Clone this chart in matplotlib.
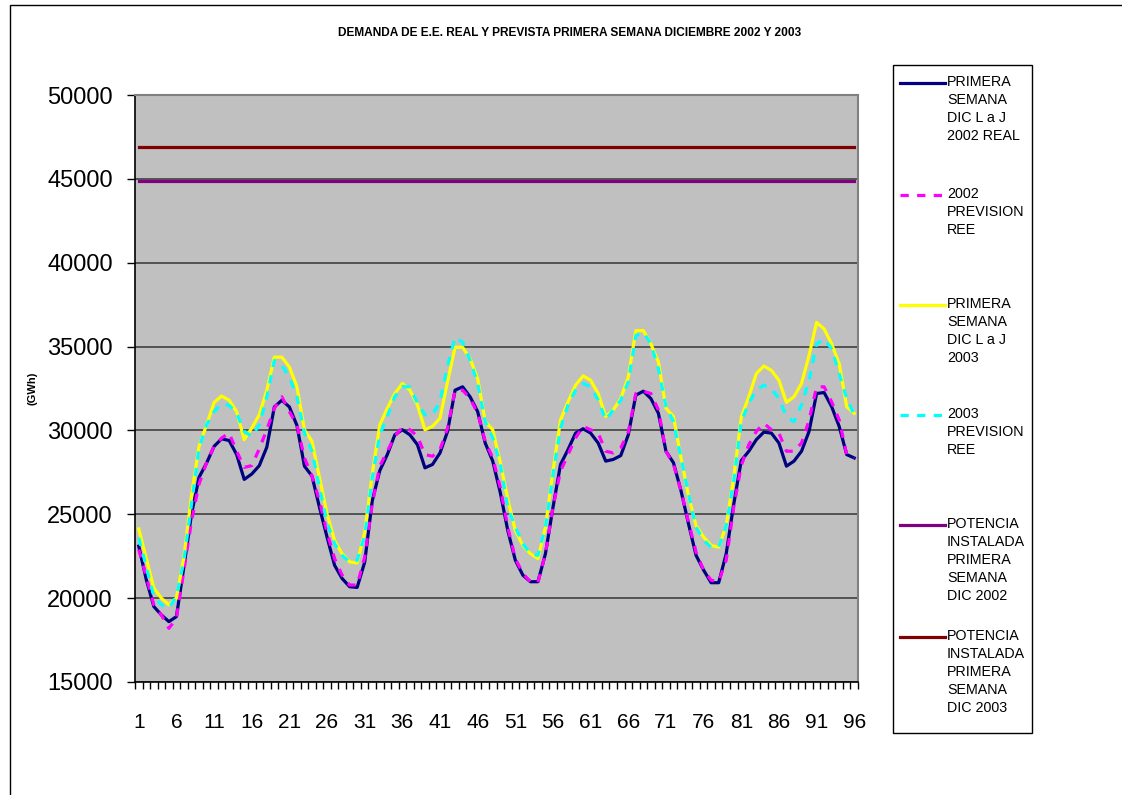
import numpy as np
import matplotlib
matplotlib.use("Agg")
import matplotlib.pyplot as plt
from matplotlib.lines import Line2D
from matplotlib.patches import Rectangle

plt.rcParams['font.family'] = ['Liberation Sans', 'DejaVu Sans']

# cuartos de hora / horas de la semana (1..96)
periodos = np.arange(1, 97)

real_2002 = [23100, 21100, 19500, 19000, 18600, 18900, 21900, 25000, 27200, 28050,
             29050, 29500, 29400, 28560, 27080, 27400, 27900, 29000, 31400, 31800,
             31400, 30300, 27870, 27280, 25400, 23640, 21960, 21170, 20680, 20640,
             22150, 25800, 27600, 28560, 29740, 30040, 29740, 29150, 27770, 27970,
             28660, 29940, 32400, 32600, 32000, 31120, 29250, 28170, 26300, 24030,
             22260, 21370, 20980, 20980, 22650, 25410, 27970, 28860, 29840, 30100,
             29840, 29250, 28170, 28270, 28500, 29740, 32100, 32340, 31900, 31020,
             28760, 28070, 26400, 24420, 22550, 21670, 20920, 20920, 22650, 25600,
             28200, 28760, 29450, 29900, 29840, 29250, 27870, 28170, 28760, 29940,
             32200, 32260, 31420, 30240, 28560, 28360]

prev_2002 = [22900, 21270, 19600, 19000, 18200, 18800, 21670, 24570, 26800, 28070,
             29050, 29550, 29840, 28760, 27800, 27900, 28900, 30040, 31320, 32010,
             31120, 30330, 28360, 27280, 25800, 23930, 22360, 21370, 20780, 20780,
             22450, 25600, 27870, 28760, 29650, 30180, 30040, 29650, 28560, 28460,
             28860, 30140, 32400, 32400, 31900, 31020, 29350, 28360, 26600, 24230,
             22360, 21470, 20980, 20920, 22650, 25410, 27580, 28560, 29550, 30240,
             30040, 29840, 28760, 28660, 28960, 29900, 32200, 32340, 32200, 31220,
             28760, 27970, 26400, 24520, 22750, 21670, 21070, 20980, 22260, 25410,
             27900, 29150, 29940, 30430, 30040, 29840, 28760, 28760, 29250, 30600,
             32600, 32600, 31700, 30630, 28560, 28360]

real_2003 = [24130, 22360, 20600, 20000, 19600, 20000, 22450, 26100, 29050, 30330,
             31670, 32050, 31800, 31120, 29450, 30140, 30930, 32400, 34370, 34370,
             33780, 32600, 30040, 29350, 27180, 25020, 23440, 22650, 22160, 22100,
             23930, 27380, 30330, 31320, 32200, 32800, 32400, 31520, 30040, 30240,
             30730, 32900, 34960, 34960, 34270, 33090, 30530, 30040, 28100, 25900,
             24030, 23140, 22650, 22360, 24230, 27580, 30630, 31710, 32700, 33250,
             32990, 32200, 30830, 31220, 31900, 33190, 35950, 35950, 35160, 34080,
             31320, 30830, 28360, 26100, 24330, 23640, 23140, 23040, 24330, 27180,
             30800, 32010, 33390, 33840, 33580, 32990, 31670, 32010, 32800, 34470,
             36440, 36050, 35160, 33980, 31420, 31020]

prev_2003 = [23600, 21860, 20100, 19600, 19400, 20100, 22260, 25600, 28960, 30330,
             31120, 31600, 31500, 31020, 29940, 29650, 30330, 32000, 34170, 33870,
             33190, 32010, 29840, 28760, 26590, 24520, 23240, 22550, 22160, 22260,
             23730, 27180, 29740, 30830, 32010, 32600, 32600, 31620, 30930, 30930,
             31710, 33870, 35550, 35260, 34170, 32800, 30530, 29550, 28000, 25410,
             24230, 23240, 22650, 22550, 24230, 27380, 30140, 31520, 32400, 32800,
             32600, 31810, 30630, 31220, 31800, 32900, 35650, 35850, 35160, 33680,
             31420, 30530, 28360, 26200, 24230, 23440, 23040, 23040, 24330, 26990,
             30530, 31620, 32400, 32700, 32500, 31900, 30830, 30530, 31520, 32990,
             35160, 35460, 34860, 33390, 31910, 30930]

potencia_2002 = 44850
potencia_2003 = 46900

etiquetas = ["PRIMERA\nSEMANA\nDIC L a J\n2002 REAL",
             "2002\nPREVISION\nREE",
             "PRIMERA\nSEMANA\nDIC L a J\n2003",
             "2003\nPREVISION\nREE",
             "POTENCIA\nINSTALADA\nPRIMERA\nSEMANA\nDIC 2002",
             "POTENCIA\nINSTALADA\nPRIMERA\nSEMANA\nDIC 2003"]

W, H = 1122, 795
fig = plt.figure(figsize=(W / 100, H / 100), dpi=100)
ax = fig.add_axes([135 / W, 1 - 682 / H, (858 - 135) / W, (682 - 95) / H])
ax.set_facecolor('#C0C0C0')

dash = (0, (2.6, 2.6))
estilos = [dict(color='#000080', lw=2.3, ls='-'),
           dict(color='#FF00FF', lw=2.3, ls=dash),
           dict(color='#FFFF00', lw=2.3, ls='-'),
           dict(color='#00FFFF', lw=2.3, ls=dash),
           dict(color='#800080', lw=2.3, ls='-'),
           dict(color='#800000', lw=2.3, ls='-')]

series = [real_2002, prev_2002, real_2003, prev_2003,
          np.full(len(periodos), potencia_2002), np.full(len(periodos), potencia_2003)]
for s, st in zip(series, estilos):
    ax.plot(periodos, s, **st, zorder=3)

ax.set_xlim(0.5, 96.5)
ax.set_ylim(15000, 50000)
ax.set_yticks(np.arange(15000, 50001, 5000))
ax.yaxis.grid(True, color='#404040', lw=1.2, zorder=1)
ax.set_axisbelow(True)

ax.set_xticks(periodos[::5])
ax.set_xticks(np.arange(0.5, 97, 1), minor=True)
ax.tick_params(axis='x', which='major', length=0, pad=22, labelsize=15)
ax.tick_params(axis='x', which='minor', length=5, width=1, direction='out')
ax.tick_params(axis='y', length=6, width=1, pad=10, labelsize=17)

for side in ['top', 'right']:
    ax.spines[side].set_color('#808080')
    ax.spines[side].set_linewidth(1.5)
for side in ['left', 'bottom']:
    ax.spines[side].set_color('black')
    ax.spines[side].set_linewidth(1.2)

# etiqueta del eje y colocada a mano
fig.text(33 / W, 1 - 388 / H, '(GWh)', rotation=90, ha='center', va='center',
         fontsize=8, fontweight='bold')

fig.text(570 / W, 1 - 33 / H,
         'DEMANDA DE E.E. REAL Y PREVISTA PRIMERA SEMANA DICIEMBRE 2002 Y 2003',
         ha='center', va='center', fontsize=8.6, fontweight='bold')

# leyenda manual
fig.add_artist(Rectangle((893 / W, 1 - 733 / H), (1032 - 893) / W, (733 - 65) / H,
                         transform=fig.transFigure, fill=False, ec='black', lw=1))
filas = [83, 195, 305, 415, 525, 637]
for y, txt, st in zip(filas, etiquetas, estilos):
    yf = 1 - y / H
    fig.add_artist(Line2D([900 / W, 945 / W], [yf, yf], transform=fig.transFigure, **st))
    fig.text(947 / W, 1 - (y - 8) / H, txt, ha='left', va='top',
             fontsize=10.3, linespacing=1.36)

# borde exterior (solo se ven izquierda y arriba)
fig.add_artist(Rectangle((10 / W, -0.05), 1.0, 1.05 - 5 / H,
                         transform=fig.transFigure, fill=False, ec='black', lw=1,
                         clip_on=False))

fig.savefig('out.png', dpi=100, facecolor='white')
